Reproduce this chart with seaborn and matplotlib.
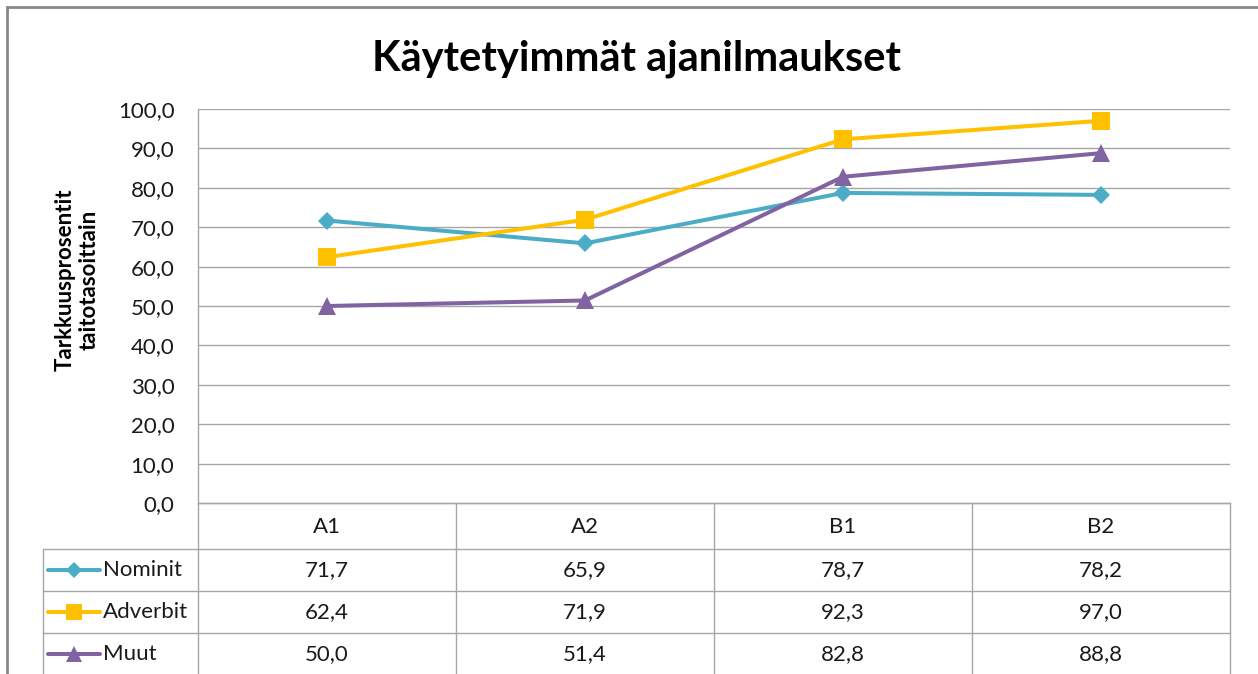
import numpy as np
import pandas as pd
import matplotlib
matplotlib.use("Agg")
import matplotlib.pyplot as plt
import seaborn as sns

# Data
levels = ["A1", "A2", "B1", "B2"]
nominit = [71.7, 65.9, 78.7, 78.2]
adverbit = [62.4, 71.9, 92.3, 97.0]
muut = [50.0, 51.4, 82.8, 88.8]
series_names = ["Nominit", "Adverbit", "Muut"]
series_values = [nominit, adverbit, muut]
y_ticks = list(range(0, 101, 10))

title = "Käytetyimmät ajanilmaukset"
y_label = "Tarkkuusprosentit\ntaitotasoittain"

# Styles
colors = {"Nominit": "#4BACC6", "Adverbit": "#FFC000", "Muut": "#8064A2"}
markers = {"Nominit": "D", "Adverbit": "s", "Muut": "^"}
marker_sizes = {"Nominit": 9.6, "Adverbit": 12.8, "Muut": 13.0}
grid_color = "#A6A6A6"
text_color = "#1a1a1a"

sns.set_theme(style="white")
plt.rcParams["font.family"] = ["Lato", "DejaVu Sans"]


def fmt(v):
    return f"{v:.1f}".replace(".", ",")


df = pd.DataFrame({
    "taso": levels * len(series_names),
    "arvo": [v for vals in series_values for v in vals],
    "ryhma": np.repeat(series_names, len(levels)),
})

W, H = 1258, 674
fig = plt.figure(figsize=(W / 100, H / 100), dpi=100)
fig.patch.set_facecolor("white")


def fx(px):
    return px / W


def fy(py):
    return 1 - py / H


# Plot area in pixel geometry
L, R, T, B = 198, 1230, 109, 503

# Overlay for the chart frame and data table
ov = fig.add_axes([0, 0, 1, 1], zorder=0)
ov.set_xlim(0, W)
ov.set_ylim(H, 0)
ov.axis("off")

ax = fig.add_axes([fx(L), fy(B), fx(R) - fx(L), fy(T) - fy(B)], zorder=1)
ax.set_facecolor("white")

for name in series_names:
    sub = df[df["ryhma"] == name]
    sns.lineplot(data=sub, x="taso", y="arvo", ax=ax, color=colors[name],
                 marker=markers[name], markersize=marker_sizes[name],
                 markeredgewidth=0, linewidth=2.9, sort=False,
                 errorbar=None, legend=False)

ax.set_xlim(-0.5, len(levels) - 0.5)
ax.set_ylim(0, 100)
ax.set_yticks(y_ticks)
ax.set_yticklabels([fmt(v) for v in y_ticks], fontsize=16, color=text_color)
ax.tick_params(axis="y", length=0, pad=17)
ax.tick_params(axis="x", length=0, labelbottom=False)
ax.set_xlabel("")
ax.set_ylabel("")
ax.yaxis.grid(True, color=grid_color, linewidth=1.0)
ax.set_axisbelow(True)
for side in ["top", "right"]:
    ax.spines[side].set_visible(False)
for side in ["left", "bottom"]:
    ax.spines[side].set_color(grid_color)
    ax.spines[side].set_linewidth(1.0)

# Outer chart frame
ov.plot([7, 7, W + 5], [H + 5, 7, 7], color="#878787", linewidth=2.0,
        solid_joinstyle="miter")

# Title and axis label
fig.text(fx(636), fy(70), title, ha="center", va="baseline",
         fontsize=30, fontweight="bold", color="black")
fig.text(fx(77), fy(280), y_label, ha="center", va="center", rotation=90,
         fontsize=16, fontweight="bold", color="black",
         multialignment="center", linespacing=1.2)

# Data table
col_w = (R - L) / len(levels)
col_edges = [L + i * col_w for i in range(len(levels) + 1)]
header_bottom = 549
row_h = 42
row_edges = [header_bottom + i * row_h for i in range(len(series_names) + 1)]
label_left = 43
tl = dict(color=grid_color, linewidth=1.0)

ov.plot([L, R], [B, B], **tl)
for yy in row_edges:
    ov.plot([label_left, R], [yy, yy], **tl)
ov.plot([label_left, label_left], [header_bottom, row_edges[-1]], **tl)
ov.plot([L, L], [B, row_edges[-1]], **tl)
for xx in col_edges[1:]:
    ov.plot([xx, xx], [B, row_edges[-1]], **tl)

for i, lev in enumerate(levels):
    cx = (col_edges[i] + col_edges[i + 1]) / 2
    ov.text(cx, (B + header_bottom) / 2 + 1, lev, ha="center", va="center",
            fontsize=16, color=text_color)

for r, (name, vals) in enumerate(zip(series_names, series_values)):
    cy = (row_edges[r] + row_edges[r + 1]) / 2
    ov.plot([48, 100], [cy, cy], color=colors[name], linewidth=2.9,
            solid_capstyle="round")
    ov.plot([74], [cy], linestyle="none", marker=markers[name],
            markersize=marker_sizes[name] * 0.85, markeredgewidth=0,
            color=colors[name])
    ov.text(103, cy, name, ha="left", va="center", fontsize=16,
            color=text_color)
    for i, v in enumerate(vals):
        cx = (col_edges[i] + col_edges[i + 1]) / 2
        ov.text(cx, cy, fmt(v), ha="center", va="center", fontsize=16,
                color=text_color)

fig.savefig("out.png", dpi=100, facecolor="white")
